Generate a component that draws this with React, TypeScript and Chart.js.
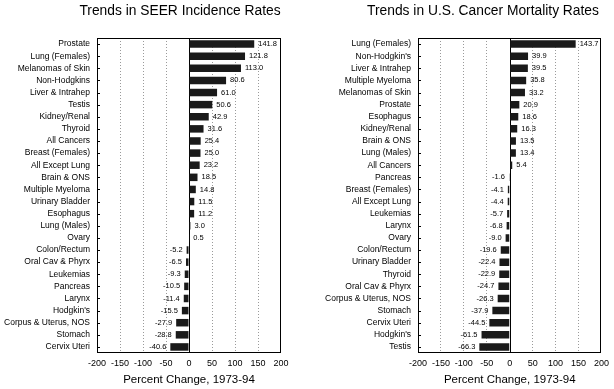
import React, { useEffect, useRef } from "react";
import { Chart, registerables } from "chart.js";

Chart.register(...registerables);

const FONT = "'Liberation Sans', Arial, Helvetica, sans-serif";

const incidenceTitle = "Trends in SEER Incidence Rates";
const incidenceLabels = [
  "Prostate", "Lung (Females)", "Melanomas of Skin", "Non-Hodgkins", "Liver & Intrahep",
  "Testis", "Kidney/Renal", "Thyroid", "All Cancers", "Breast (Females)", "All Except Lung",
  "Brain & ONS", "Multiple Myeloma", "Urinary Bladder", "Esophagus", "Lung (Males)", "Ovary",
  "Colon/Rectum", "Oral Cav & Phyrx", "Leukemias", "Pancreas", "Larynx", "Hodgkin's",
  "Corpus & Uterus, NOS", "Stomach", "Cervix Uteri",
];
const incidenceValues = [
  141.8, 121.8, 113.0, 80.6, 61.0, 50.6, 42.9, 31.6, 25.4, 25.0, 23.2, 18.5, 14.8, 11.5, 11.2,
  3.0, 0.5, -5.2, -6.5, -9.3, -10.5, -11.4, -15.5, -27.9, -28.8, -40.6,
];

const mortalityTitle = "Trends in U.S. Cancer Mortality Rates";
const mortalityLabels = [
  "Lung (Females)", "Non-Hodgkin's", "Liver & Intrahep", "Multiple Myeloma", "Melanomas of Skin",
  "Prostate", "Esophagus", "Kidney/Renal", "Brain & ONS", "Lung (Males)", "All Cancers",
  "Pancreas", "Breast (Females)", "All Except Lung", "Leukemias", "Larynx", "Ovary",
  "Colon/Rectum", "Urinary Bladder", "Thyroid", "Oral Cav & Phyrx", "Corpus & Uterus, NOS",
  "Stomach", "Cervix Uteri", "Hodgkin's", "Testis",
];
const mortalityValues = [
  143.7, 39.9, 39.5, 35.8, 33.2, 20.9, 18.6, 16.3, 13.5, 13.4, 5.4, -1.6, -4.1, -4.4, -5.7,
  -6.8, -9.0, -19.6, -22.4, -22.9, -24.7, -26.3, -37.9, -44.5, -61.5, -66.3,
];

const xMin = -200;
const xMax = 200;
const xStep = 50;
const axisTitle = "Percent Change, 1973-94";

type Cfg = {
  title: string;
  titleX: number;
  labels: string[];
  values: number[];
  yWidth: number;
  padRight: number;
};

function makeDecor(title: string, titleX: number) {
  return {
    id: "decor",
    beforeDatasetsDraw(chart: any) {
      const { ctx, chartArea } = chart;
      const x0 = chart.scales.x.getPixelForValue(0);
      ctx.save();
      ctx.strokeStyle = "#000";
      ctx.lineWidth = 1;
      ctx.beginPath();
      ctx.moveTo(Math.round(x0) + 0.5, chartArea.top);
      ctx.lineTo(Math.round(x0) + 0.5, chartArea.bottom);
      ctx.stroke();
      ctx.restore();
    },
    afterDatasetsDraw(chart: any) {
      const { ctx, chartArea } = chart;
      ctx.save();
      ctx.strokeStyle = "#000";
      ctx.lineWidth = 1;
      ctx.strokeRect(
        Math.round(chartArea.left) + 0.5,
        Math.round(chartArea.top) + 0.5,
        Math.round(chartArea.right - chartArea.left) - 1,
        Math.round(chartArea.bottom - chartArea.top) - 1
      );
      const yScale = chart.scales.y;
      ctx.beginPath();
      yScale.ticks.forEach((_t: any, i: number) => {
        const y = Math.round(yScale.getPixelForTick(i)) + 0.5;
        ctx.moveTo(chartArea.left, y);
        ctx.lineTo(chartArea.left + 3, y);
      });
      ctx.stroke();
      const meta = chart.getDatasetMeta(0);
      const data = chart.data.datasets[0].data as number[];
      ctx.fillStyle = "#000";
      ctx.font = `7.5px ${FONT}`;
      ctx.textBaseline = "middle";
      meta.data.forEach((el: any, i: number) => {
        const v = data[i];
        if (v >= 0) {
          ctx.textAlign = "left";
          ctx.fillText(v.toFixed(1), el.x + 4, el.y);
        } else {
          ctx.textAlign = "right";
          ctx.fillText(v.toFixed(1), el.x - 4, el.y);
        }
      });
      ctx.restore();
    },
    afterDraw(chart: any) {
      const { ctx } = chart;
      ctx.save();
      ctx.fillStyle = "#000";
      ctx.font = `13.8px ${FONT}`;
      ctx.textAlign = "center";
      ctx.textBaseline = "alphabetic";
      ctx.fillText(title, titleX, 15);
      ctx.restore();
    },
  };
}

function BarPanel(props: Cfg & { width: number; left: number }) {
  const ref = useRef<HTMLCanvasElement | null>(null);
  useEffect(() => {
    if (!ref.current) return;
    const chart = new Chart(ref.current, {
      type: "bar",
      data: {
        labels: props.labels,
        datasets: [
          {
            data: props.values,
            backgroundColor: "#1a1a1a",
            borderWidth: 0,
            barPercentage: 0.62,
            categoryPercentage: 1,
          },
        ],
      },
      options: {
        indexAxis: "y",
        animation: false,
        responsive: false,
        devicePixelRatio: 1,
        layout: { padding: { top: 38, right: props.padRight, left: 0, bottom: 0 } },
        plugins: {
          legend: { display: false },
          title: { display: false },
          tooltip: { enabled: false },
        },
        scales: {
          x: {
            type: "linear",
            min: xMin,
            max: xMax,
            afterFit: (s: any) => {
              s.height = 36;
            },
            ticks: {
              stepSize: xStep,
              color: "#000",
              padding: 5,
              maxRotation: 0,
              minRotation: 0,
              autoSkip: false,
              font: { family: FONT, size: 9 },
            },
            grid: {
              drawTicks: false,
              color: (c: any) =>
                c.tick && (c.tick.value === 0 || c.tick.value === xMin || c.tick.value === xMax)
                  ? "rgba(0,0,0,0)"
                  : "#9a9a9a",
              lineWidth: 1,
            },
            border: { display: false, dash: [1, 2] },
            title: {
              display: true,
              text: axisTitle,
              color: "#000",
              font: { family: FONT, size: 11.5 },
              padding: { top: 0, bottom: 2 },
            },
          },
          y: {
            type: "category",
            afterFit: (s: any) => {
              s.width = props.yWidth;
            },
            ticks: {
              color: "#000",
              padding: 7,
              autoSkip: false,
              font: { family: FONT, size: 8.5 },
            },
            grid: { display: false, drawTicks: false },
            border: { display: false },
          },
        },
      },
      plugins: [makeDecor(props.title, props.titleX)],
    } as any);
    return () => chart.destroy();
  }, []);
  return (
    <canvas
      ref={ref}
      width={props.width}
      height={389}
      style={{ position: "absolute", left: props.left, top: 0, width: props.width, height: 389 }}
    />
  );
}

export default function App() {
  return (
    <div
      style={{
        position: "absolute",
        left: 0,
        top: 0,
        width: 614,
        height: 389,
        background: "#fff",
        overflow: "hidden",
      }}
    >
      <BarPanel
        title={incidenceTitle}
        titleX={180}
        labels={incidenceLabels}
        values={incidenceValues}
        yWidth={97}
        padRight={19}
        width={300}
        left={0}
      />
      <BarPanel
        title={mortalityTitle}
        titleX={183}
        labels={mortalityLabels}
        values={mortalityValues}
        yWidth={118}
        padRight={11}
        width={314}
        left={300}
      />
    </div>
  );
}
